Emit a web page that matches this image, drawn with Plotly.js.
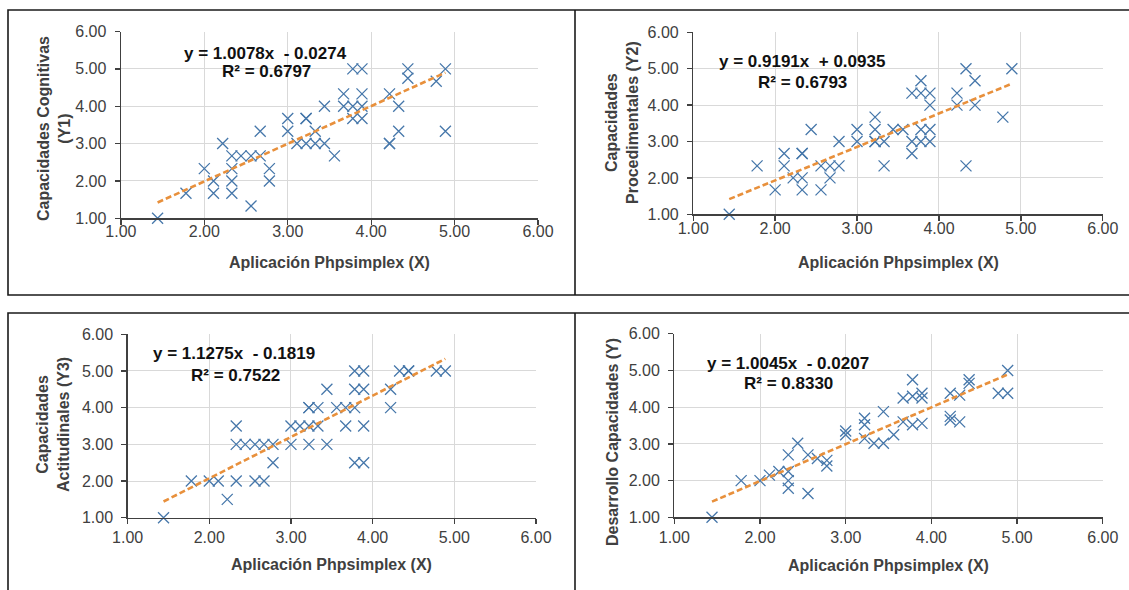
<!DOCTYPE html>
<html>
<head>
<meta charset="utf-8">
<script src="https://cdn.plot.ly/plotly-3.0.1.min.js"></script>
<style>
  html, body { margin: 0; padding: 0; background: #ffffff; }
  #chart { width: 1129px; height: 590px; }
</style>
</head>
<body>
<div id="chart"></div>
<script>
// ---------------- DATA ----------------
const xAxisLabel = 'Aplicación Phpsimplex (X)';
const yAxisLabels = [
  'Capacidades Cognitivas<br>(Y1)',
  'Capacidades<br>Procedimentales (Y2)',
  'Capacidades<br>Actitudinales (Y3)',
  'Desarrollo Capacidades (Y)'
];
const tickValues = [1, 2, 3, 4, 5, 6];

// Panel 1: Capacidades Cognitivas (Y1)
const x1 = [1.44,1.78,2.00,2.11,2.11,2.22,2.33,2.33,2.33,2.33,2.44,2.56,2.56,2.67,2.67,2.78,2.78,3.00,3.00,3.11,3.22,3.22,3.22,3.33,3.33,3.44,3.44,3.56,3.67,3.67,3.78,3.89,3.89,3.78,3.78,3.89,3.89,4.22,4.22,4.22,4.33,4.33,4.44,4.44,4.78,4.89,4.89];
const y1 = [1.00,1.67,2.33,2.00,1.67,3.00,2.67,2.33,2.00,1.67,2.67,2.67,1.33,2.67,3.33,2.33,2.00,3.67,3.33,3.00,3.67,3.67,3.00,3.33,3.00,3.00,4.00,2.67,4.33,4.00,5.00,5.00,4.33,4.00,3.67,3.67,4.00,4.33,3.00,3.00,4.00,3.33,5.00,4.75,4.67,5.00,3.33];

// Panel 2: Capacidades Procedimentales (Y2)
const x2 = [1.44,1.78,2.00,2.11,2.11,2.22,2.33,2.33,2.33,2.33,2.44,2.56,2.56,2.67,2.67,2.78,2.78,3.00,3.00,3.22,3.22,3.22,3.22,3.33,3.33,3.44,3.56,3.67,3.78,3.78,3.89,3.89,3.67,3.67,3.78,3.78,3.89,3.89,4.22,4.22,4.33,4.33,4.44,4.44,4.78,4.89];
const y2 = [1.00,2.33,1.67,2.67,2.33,2.00,2.67,2.67,2.00,1.67,3.33,2.33,1.67,2.33,2.00,2.33,3.00,3.33,3.00,3.67,3.33,3.00,3.00,2.33,3.00,3.33,3.33,4.33,4.67,4.33,4.33,4.00,3.00,2.67,3.33,3.00,3.33,3.00,4.33,4.00,5.00,2.33,4.67,4.00,3.67,5.00];

// Panel 3: Capacidades Actitudinales (Y3)
const x3 = [1.44,1.78,2.00,2.11,2.22,2.33,2.33,2.33,2.44,2.56,2.56,2.67,2.67,2.78,2.78,3.00,3.00,3.11,3.22,3.22,3.22,3.22,3.33,3.33,3.44,3.44,3.56,3.67,3.67,3.78,3.89,3.78,3.89,3.78,3.89,3.78,3.89,4.22,4.22,4.33,4.44,4.44,4.78,4.89];
const y3 = [1.00,2.00,2.00,2.00,1.50,3.50,3.00,2.00,3.00,3.00,2.00,3.00,2.00,3.00,2.50,3.50,3.00,3.50,4.00,4.00,3.50,3.00,4.00,3.50,4.50,3.00,4.00,4.00,3.50,5.00,5.00,4.50,4.50,4.00,3.50,2.50,2.50,4.50,4.00,5.00,5.00,5.00,5.00,5.00];

// Panel 4: Desarrollo Capacidades (Y)
const x4 = [1.44,1.78,2.00,2.11,2.22,2.33,2.33,2.33,2.33,2.44,2.56,2.56,2.67,2.78,2.78,3.00,3.00,3.22,3.22,3.22,3.33,3.44,3.44,3.56,3.67,3.67,3.78,3.78,3.78,3.89,3.89,3.89,4.22,4.22,4.22,4.33,4.33,4.44,4.44,4.78,4.89,4.89];
const y4 = [1.00,2.00,2.00,2.15,2.25,2.70,2.25,2.00,1.79,3.02,1.65,2.70,2.60,2.55,2.40,3.35,3.25,3.70,3.52,3.15,3.02,3.02,3.88,3.25,4.25,3.60,4.75,4.30,3.52,4.38,4.25,3.56,4.38,3.75,3.65,3.60,4.33,4.75,4.65,4.38,4.38,5.00];

// Trendline coefficients shown on the chart
const slopes = [1.0078, 0.9191, 1.1275, 1.0045];
const intercepts = [-0.0274, 0.0935, -0.1819, -0.0207];
const rSquared = [0.6797, 0.6793, 0.7522, 0.8330];

const xSeries = [x1, x2, x3, x4];
const ySeries = [y1, y2, y3, y4];

// ---------------- LAYOUT GEOMETRY (pixels) ----------------
const W = 1129, H = 590;
const boxes = [
  {l: 120.9, r: 538.0,  t: 31.5,  b: 218.3, eqX: 265, eqY: 53,  r2X: 266, r2Y: 72,  ytX: 54,  ytY: 129, xtY: 262, tlPad: -7},
  {l: 693.2, r: 1102.8, t: 32.3,  b: 214.3, eqX: 802, eqY: 61,  r2X: 802, r2Y: 82,  ytX: 622, ytY: 123, xtY: 262, tlPad: -6},
  {l: 127.6, r: 536.0,  t: 334.3, b: 517.7, eqX: 234, eqY: 353, r2X: 235, r2Y: 375, ytX: 53,  ytY: 425, xtY: 564, tlPad: 0},
  {l: 674.3, r: 1102.8, t: 333.8, b: 517.3, eqX: 788, eqY: 363, r2X: 788, r2Y: 383, ytX: 612, ytY: 442, xtY: 565, tlPad: 0}
];
const px = v => v / W;
const py = v => 1 - v / H;

const FONT = 'Liberation Sans, Arial, Helvetica, sans-serif';
const markerColor = '#4677aa';
const trendColor = '#e8903c';

const traces = [];
const layout = {
  width: W, height: H,
  margin: {l: 0, r: 0, t: 0, b: 0},
  paper_bgcolor: '#ffffff',
  plot_bgcolor: 'rgba(0,0,0,0)',
  showlegend: false,
  font: {family: FONT, color: '#404040'},
  annotations: [],
  shapes: []
};

function fmtEq(m, b) {
  const sign = b < 0 ? '-' : '+';
  return 'y = ' + m.toFixed(4) + 'x  ' + sign + ' ' + Math.abs(b).toFixed(4);
}

for (let i = 0; i < 4; i++) {
  const sfx = i === 0 ? '' : String(i + 1);
  const bx = boxes[i];
  const xs = xSeries[i], ys = ySeries[i];

  traces.push({
    type: 'scatter', mode: 'markers',
    x: xs, y: ys,
    xaxis: 'x' + sfx, yaxis: 'y' + sfx,
    cliponaxis: false,
    marker: {symbol: 'x-thin', size: 11, color: markerColor,
             line: {width: 1.3, color: markerColor}},
    hoverinfo: 'x+y'
  });

  const xmin = Math.min(...xs), xmax = Math.max(...xs);
  traces.push({
    type: 'scatter', mode: 'lines',
    x: [xmin, xmax],
    y: [slopes[i] * xmin + intercepts[i], slopes[i] * xmax + intercepts[i]],
    xaxis: 'x' + sfx, yaxis: 'y' + sfx,
    line: {color: trendColor, width: 2.6, dash: '6px,3px'},
    hoverinfo: 'skip'
  });

  const axisCommon = {
    range: [1, 6], tickvals: tickValues, tickformat: '.2f',
    showgrid: true, gridcolor: '#d9d9d9', gridwidth: 1,
    zeroline: false, showline: true, linecolor: '#404040', linewidth: 1.3,
    ticks: 'outside', ticklen: 5, tickwidth: 1.3, tickcolor: '#404040',
    tickfont: {family: FONT, size: 16, color: '#404040'},
    fixedrange: true
  };
  layout['xaxis' + sfx] = Object.assign({}, axisCommon, {
    domain: [px(bx.l), px(bx.r)],
    anchor: 'y' + sfx,
    ticklabelstandoff: bx.tlPad
  });
  layout['yaxis' + sfx] = Object.assign({}, axisCommon, {
    domain: [py(bx.b), py(bx.t)],
    anchor: 'x' + sfx,
    ticklabelstandoff: 5
  });

  // Axis titles
  layout.annotations.push({
    xref: 'paper', yref: 'paper',
    x: px((bx.l + bx.r) / 2), y: py(bx.xtY),
    xanchor: 'center', yanchor: 'middle', showarrow: false,
    text: '<b>' + xAxisLabel + '</b>',
    font: {family: FONT, size: 16, color: '#404040'}
  });
  layout.annotations.push({
    xref: 'paper', yref: 'paper',
    x: px(bx.ytX), y: py(bx.ytY),
    xanchor: 'center', yanchor: 'middle', showarrow: false,
    textangle: -90,
    text: '<b>' + yAxisLabels[i].replace('<br>', '</b><br><b>') + '</b>',
    font: {family: FONT, size: 16, color: '#404040'}
  });

  // Trendline equation and R²
  layout.annotations.push({
    xref: 'paper', yref: 'paper',
    x: px(bx.eqX), y: py(bx.eqY),
    xanchor: 'center', yanchor: 'middle', showarrow: false,
    text: '<b>' + fmtEq(slopes[i], intercepts[i]) + '</b>',
    font: {family: FONT, size: 17, color: '#111111'}
  });
  layout.annotations.push({
    xref: 'paper', yref: 'paper',
    x: px(bx.r2X), y: py(bx.r2Y),
    xanchor: 'center', yanchor: 'middle', showarrow: false,
    text: '<b>R² = ' + rSquared[i].toFixed(4) + '</b>',
    font: {family: FONT, size: 17, color: '#111111'}
  });
}

// Frames around the panels
const frameLine = {color: '#1a1a1a', width: 1.6};
layout.shapes.push(
  {type: 'rect', xref: 'paper', yref: 'paper', x0: px(8), x1: px(1140), y0: py(295), y1: py(10), line: frameLine, layer: 'above'},
  {type: 'line', xref: 'paper', yref: 'paper', x0: px(575), x1: px(575), y0: py(295), y1: py(10), line: frameLine, layer: 'above'},
  {type: 'rect', xref: 'paper', yref: 'paper', x0: px(8), x1: px(1140), y0: py(600), y1: py(313), line: frameLine, layer: 'above'},
  {type: 'line', xref: 'paper', yref: 'paper', x0: px(575), x1: px(575), y0: py(600), y1: py(313), line: frameLine, layer: 'above'}
);

Plotly.newPlot('chart', traces, layout, {displayModeBar: false, staticPlot: true});
</script>
</body>
</html>
